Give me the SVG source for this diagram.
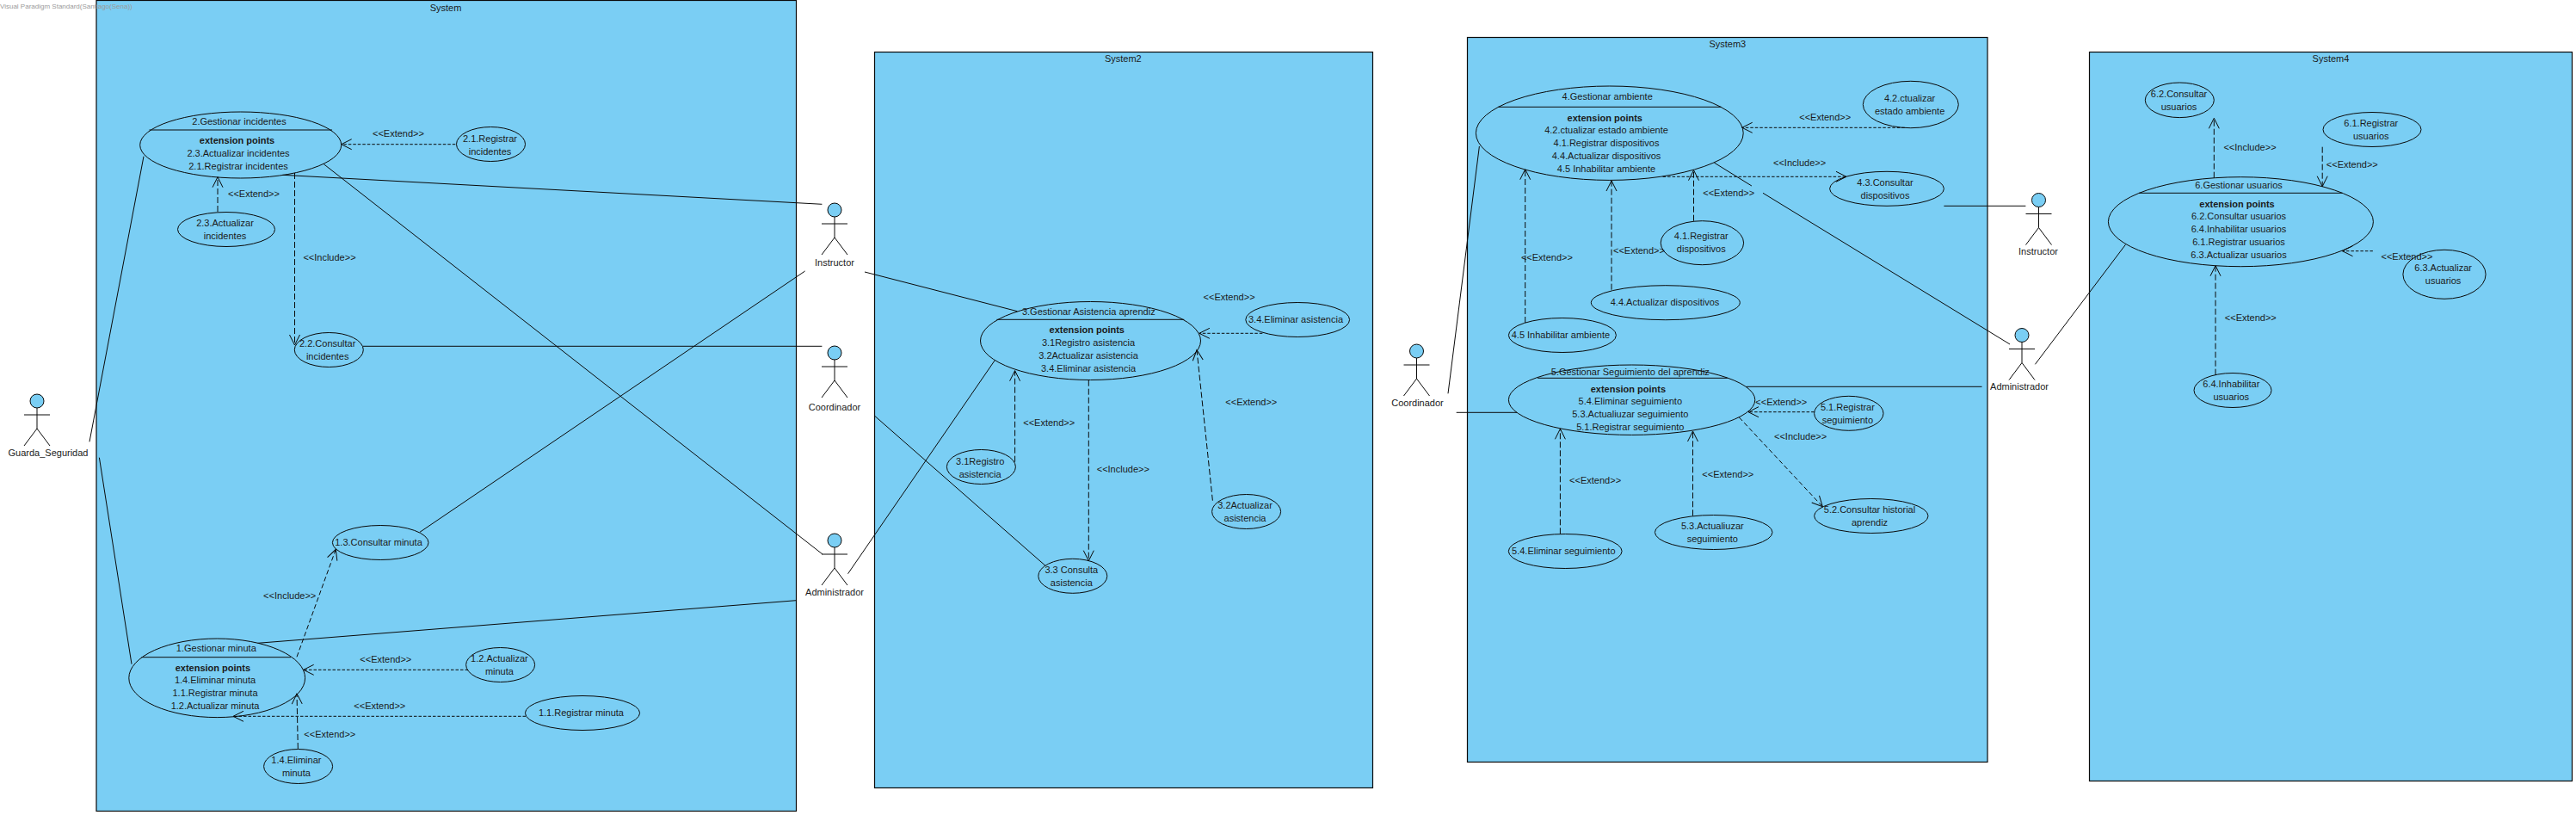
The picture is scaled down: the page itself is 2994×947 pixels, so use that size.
<svg xmlns="http://www.w3.org/2000/svg" width="2994" height="947" viewBox="0 0 2994 947">
<style>
text{font-family:"Liberation Sans",Arial,sans-serif;font-size:11px;fill:#1a1a1a;text-anchor:middle;dominant-baseline:central}
.b{font-weight:bold}
.sys{fill:#7acef4;stroke:#0a0a0a;stroke-width:1.2}
.uc{fill:#7acef4;stroke:#0a0a0a;stroke-width:1}
.sep{stroke:#0a0a0a;stroke-width:1;fill:none}
.act{fill:none;stroke:#0a0a0a;stroke-width:1}
.head{fill:#7acef4;stroke:#0a0a0a;stroke-width:1}
.as{fill:none;stroke:#0a0a0a;stroke-width:1}
.dp{fill:none;stroke:#0a0a0a;stroke-width:1;stroke-dasharray:5.5 3;marker-end:url(#open)}
.h{stroke-dasharray:3.5 2}
.v{stroke-dasharray:7 3}
.wm{font-size:8px;fill:#9a9a9a;text-anchor:start}
</style>
<defs>
<marker id="open" markerUnits="userSpaceOnUse" markerWidth="30" markerHeight="30" refX="15" refY="15" orient="auto" overflow="visible">
<path d="M3,9 L15,15 L3,21" fill="none" stroke="#0a0a0a" stroke-width="1"/>
</marker>
<g id="actor">
<circle class="head" cx="0" cy="8" r="8"/>
<path class="act" d="M0,16V40M-15,24H15M0,40L-15,60M0,40L15,60"/>
</g>
</defs>

<g id="system1"><rect class="sys" x="112" y="0.5" width="813.5" height="942"/><text x="518" y="8.7">System</text></g>
<g id="system2"><rect class="sys" x="1016.5" y="60.5" width="579" height="855"/><text x="1305.3" y="68.3">System2</text></g>
<g id="system3"><rect class="sys" x="1705.5" y="43.5" width="604.5" height="842"/><text x="2007.8" y="51.3">System3</text></g>
<g id="system4"><rect class="sys" x="2428.5" y="60.5" width="561" height="847"/><text x="2709" y="68.3">System4</text></g>

<g id="actor-guarda"><use href="#actor" x="43" y="458"/><text x="56" y="526.3">Guarda_Seguridad</text></g>
<g id="actor-instructor1"><use href="#actor" x="970" y="236"/><text x="970" y="305.3">Instructor</text></g>
<g id="actor-coordinador1"><use href="#actor" x="970" y="402"/><text x="970" y="473.3">Coordinador</text></g>
<g id="actor-administrador1"><use href="#actor" x="970" y="620"/><text x="970" y="688.3">Administrador</text></g>
<g id="actor-coordinador2"><use href="#actor" x="1646.5" y="400"/><text x="1647.5" y="468.3">Coordinador</text></g>
<g id="actor-instructor2"><use href="#actor" x="2369.5" y="224.5"/><text x="2369" y="292.3">Instructor</text></g>
<g id="actor-administrador2"><use href="#actor" x="2350" y="381.5"/><text x="2347" y="449.3">Administrador</text></g>

<g id="uc-2">
<ellipse class="uc" cx="279.7" cy="168.5" rx="117" ry="38.5"/><path class="sep" d="M173.5,151H386"/>
<text x="278" y="141">2.Gestionar incidentes</text><text class="b" x="275.5" y="163.3">extension points</text>
<text x="277" y="178.3">2.3.Actualizar incidentes</text><text x="277" y="193.3">2.1.Registrar incidentes</text></g>
<g id="uc-2-1"><ellipse class="uc" cx="570.5" cy="167.5" rx="40" ry="20"/><text x="569.5" y="160.7">2.1.Registrar</text><text x="569.5" y="175.7">incidentes</text></g>
<g id="uc-2-3"><ellipse class="uc" cx="263" cy="266.5" rx="56.5" ry="20"/><text x="261.5" y="259.3">2.3.Actualizar</text><text x="261.5" y="274.3">incidentes</text></g>
<g id="uc-2-2"><ellipse class="uc" cx="382.3" cy="406.5" rx="40" ry="20"/><text x="380.7" y="399.3">2.2.Consultar</text><text x="380.7" y="414.3">incidentes</text></g>

<g id="uc-1">
<ellipse class="uc" cx="252.2" cy="787.8" rx="102.4" ry="45.8"/><path class="sep" d="M164.5,763.7H338"/>
<text x="251.3" y="753.3">1.Gestionar minuta</text><text class="b" x="247.4" y="775.7">extension points</text>
<text x="250" y="790.3">1.4.Eliminar minuta</text><text x="250" y="805.3">1.1.Registrar minuta</text><text x="250" y="820.3">1.2.Actualizar minuta</text></g>
<g id="uc-1-3"><ellipse class="uc" cx="442.2" cy="630.5" rx="55.8" ry="20"/><text x="440" y="630.3">1.3.Consultar minuta</text></g>
<g id="uc-1-2"><ellipse class="uc" cx="581.6" cy="772.5" rx="40" ry="20"/><text x="580.4" y="765.3">1.2.Actualizar</text><text x="580.4" y="780.3">minuta</text></g>
<g id="uc-1-1"><ellipse class="uc" cx="677" cy="828.5" rx="66.6" ry="20"/><text x="675.4" y="828.3">1.1.Registrar minuta</text></g>
<g id="uc-1-4"><ellipse class="uc" cx="346.6" cy="890.5" rx="40" ry="20"/><text x="344.4" y="883.3">1.4.Eliminar</text><text x="344.4" y="898.3">minuta</text></g>

<g id="uc-3">
<ellipse class="uc" cx="1267.5" cy="396" rx="128" ry="45.5"/><path class="sep" d="M1158.4,371.3H1376.3"/>
<text x="1265.3" y="361.7">3.Gestionar Asistencia aprendiz</text><text class="b" x="1263.3" y="383.3">extension points</text>
<text x="1265" y="398.3">3.1Registro asistencia</text><text x="1265" y="413.3">3.2Actualizar asistencia</text><text x="1265" y="428.3">3.4.Eliminar asistencia</text></g>
<g id="uc-3-4"><ellipse class="uc" cx="1508.2" cy="371.5" rx="60.4" ry="20"/><text x="1506" y="371.3">3.4.Eliminar asistencia</text></g>
<g id="uc-3-1"><ellipse class="uc" cx="1140.4" cy="542.5" rx="40" ry="20"/><text x="1139.2" y="535.7">3.1Registro</text><text x="1139.2" y="550.7">asistencia</text></g>
<g id="uc-3-3"><ellipse class="uc" cx="1246.8" cy="669.3" rx="40" ry="20"/><text x="1245.3" y="662.3">3.3 Consulta</text><text x="1245.3" y="677.3">asistencia</text></g>
<g id="uc-3-2"><ellipse class="uc" cx="1448.6" cy="594.5" rx="40" ry="20"/><text x="1447" y="587.3">3.2Actualizar</text><text x="1447" y="602.3">asistencia</text></g>

<g id="uc-4">
<ellipse class="uc" cx="1870.8" cy="154.7" rx="155.4" ry="54.7"/><path class="sep" d="M1741.2,124.3H2000.5"/>
<text x="1868.2" y="112.3">4.Gestionar ambiente</text><text class="b" x="1865.3" y="136.7">extension points</text>
<text x="1867" y="151.3">4.2.ctualizar  estado ambiente</text><text x="1867" y="166.3">4.1.Registrar dispositivos</text><text x="1867" y="181.3">4.4.Actualizar dispositivos</text><text x="1867" y="196.3">4.5 Inhabilitar ambiente</text></g>
<g id="uc-4-2"><ellipse class="uc" cx="2220.8" cy="121.5" rx="55.5" ry="27.2"/><text x="2219.6" y="114.3">4.2.ctualizar</text><text x="2219.6" y="129.3">estado ambiente</text></g>
<g id="uc-4-3"><ellipse class="uc" cx="2193" cy="219.3" rx="66.4" ry="20"/><text x="2191" y="212.3">4.3.Consultar</text><text x="2191" y="227.3">dispositivos</text></g>
<g id="uc-4-1"><ellipse class="uc" cx="1978.4" cy="282.2" rx="48.2" ry="25.5"/><text x="1977.3" y="274.3">4.1.Registrar</text><text x="1977.3" y="289.3">dispositivos</text></g>
<g id="uc-4-4"><ellipse class="uc" cx="1935.8" cy="351.7" rx="86.5" ry="20"/><text x="1935" y="351.3">4.4.Actualizar dispositivos</text></g>
<g id="uc-4-5"><ellipse class="uc" cx="1815.9" cy="389.5" rx="62.5" ry="20"/><text x="1813.9" y="389.3">4.5 Inhabilitar ambiente</text></g>

<g id="uc-5">
<ellipse class="uc" cx="1896.6" cy="464.7" rx="143.2" ry="40.7"/><path class="sep" d="M1787.2,439.3H2007.8"/>
<text x="1894.8" y="432.3">5.Gestionar Seguimiento del aprendiz</text><text class="b" x="1892.4" y="451.7">extension points</text>
<text x="1894.8" y="466.3">5.4.Eliminar seguimiento</text><text x="1894.8" y="481.3">5.3.Actualiuzar seguimiento</text><text x="1894.8" y="496.3">5.1.Registrar seguimiento</text></g>
<g id="uc-5-1"><ellipse class="uc" cx="2148.8" cy="480.3" rx="40.2" ry="20"/><text x="2147.4" y="473.3">5.1.Registrar</text><text x="2147.4" y="488.3">seguimiento</text></g>
<g id="uc-5-2"><ellipse class="uc" cx="2174.8" cy="599.5" rx="66.2" ry="20"/><text x="2173" y="592.3">5.2.Consultar historial</text><text x="2173" y="607.3">aprendiz</text></g>
<g id="uc-5-3"><ellipse class="uc" cx="1991.7" cy="618.5" rx="68.3" ry="20"/><text x="1990.3" y="611.3">5.3.Actualiuzar</text><text x="1990.3" y="626.3">seguimiento</text></g>
<g id="uc-5-4"><ellipse class="uc" cx="1819.2" cy="640.5" rx="65.9" ry="20"/><text x="1817.3" y="640.3">5.4.Eliminar seguimiento</text></g>

<g id="uc-6">
<ellipse class="uc" cx="2604.4" cy="257.7" rx="154" ry="52"/><path class="sep" d="M2485.8,224.3H2722.5"/>
<text x="2602" y="215">6.Gestionar usuarios</text><text class="b" x="2600" y="236.7">extension points</text>
<text x="2602" y="251.3">6.2.Consultar usuarios</text><text x="2602" y="266.3">6.4.Inhabilitar usuarios</text><text x="2602" y="281.3">6.1.Registrar usuarios</text><text x="2602" y="296.3">6.3.Actualizar usuarios</text></g>
<g id="uc-6-2"><ellipse class="uc" cx="2533.3" cy="116.3" rx="40" ry="20.3"/><text x="2532.5" y="109.3">6.2.Consultar</text><text x="2532.5" y="124.3">usuarios</text></g>
<g id="uc-6-1"><ellipse class="uc" cx="2757" cy="150.5" rx="57" ry="20"/><text x="2755.8" y="143.3">6.1.Registrar</text><text x="2755.8" y="158.3">usuarios</text></g>
<g id="uc-6-3"><ellipse class="uc" cx="2841" cy="318.8" rx="48.1" ry="28.5"/><text x="2839.6" y="311.3">6.3.Actualizar</text><text x="2839.6" y="326.3">usuarios</text></g>
<g id="uc-6-4"><ellipse class="uc" cx="2595" cy="453.5" rx="45" ry="20"/><text x="2593.3" y="446.3">6.4.Inhabilitar</text><text x="2593.3" y="461.3">usuarios</text></g>

<g id="connectors">
<path class="as" d="M328.4,203.3L955.4,237.3"/>
<path class="as" d="M376.3,190.7L956,644"/>
<path class="as" d="M422,402.3H955.4"/>
<path class="as" d="M167,181.7L104,513.3"/>
<path class="as" d="M115.4,531.7L153,771.7"/>
<path class="as" d="M488,618.3L935.6,315"/>
<path class="as" d="M299.7,747.3L925.4,697.7"/>
<path class="as" d="M985.5,666.7L1156,419"/>
<path class="as" d="M1016,482.7L1215,657.3"/>
<path class="as" d="M1005,316L1182.4,361.7"/>
<path class="as" d="M2259.4,239.3H2354.4"/>
<path class="as" d="M1992.3,189L2035.9,216M2049,224.3L2336,400"/>
<path class="as" d="M1719.4,170L1683,457.3"/>
<path class="as" d="M2029.6,449.3H2303.5"/>
<path class="as" d="M1692.7,479.3H1763"/>
<path class="as" d="M2365.4,423.3L2470.4,284.3"/>

<path class="dp h" d="M529.3,167.7H396.7"/>
<path class="dp v" d="M253,246V205.7"/>
<path class="dp v" d="M342.5,201V401"/>
<path class="dp" d="M345,763.3L390.3,638.3"/>
<path class="dp h" d="M544,778.3H352.7"/>
<path class="dp h" d="M611,832.3H271"/>
<path class="dp v" d="M346.3,870L345,806"/>
<path class="dp h" d="M1467.3,387.3H1393.9"/>
<path class="dp v" d="M1179.6,536.7V430.7"/>
<path class="dp v" d="M1265.3,441.7V651.7"/>
<path class="dp v" d="M1409.4,581.7L1391,406.7"/>
<path class="dp h" d="M2213.8,148.3H2024.7"/>
<path class="dp h" d="M1932.6,205.3H2146"/>
<path class="dp v" d="M1968.5,256.7V197.7"/>
<path class="dp v" d="M1873,336.7V210"/>
<path class="dp v" d="M1772.7,375V196.7"/>
<path class="dp h" d="M2108.6,478.7H2032"/>
<path class="dp" d="M2021.4,485L2118.3,588.7"/>
<path class="dp v" d="M1967.5,599.3V501"/>
<path class="dp v" d="M1813.4,620.3V498.3"/>
<path class="dp v" d="M2573.3,206.7V137.3"/>
<path class="dp v" d="M2699.2,170.7V216.7"/>
<path class="dp h" d="M2757.9,291.7H2722.5"/>
<path class="dp v" d="M2575,435.7V308.7"/>

<text x="463" y="155">&lt;&lt;Extend&gt;&gt;</text>
<text x="295" y="225.3">&lt;&lt;Extend&gt;&gt;</text>
<text x="383" y="299.3">&lt;&lt;Include&gt;&gt;</text>
<text x="336.7" y="692.3">&lt;&lt;Include&gt;&gt;</text>
<text x="448.3" y="766">&lt;&lt;Extend&gt;&gt;</text>
<text x="441.3" y="820">&lt;&lt;Extend&gt;&gt;</text>
<text x="383.3" y="853.3">&lt;&lt;Extend&gt;&gt;</text>
<text x="1428.6" y="345.3">&lt;&lt;Extend&gt;&gt;</text>
<text x="1219.2" y="491">&lt;&lt;Extend&gt;&gt;</text>
<text x="1305.3" y="545">&lt;&lt;Include&gt;&gt;</text>
<text x="1454.3" y="467">&lt;&lt;Extend&gt;&gt;</text>
<text x="2121.2" y="136.3">&lt;&lt;Extend&gt;&gt;</text>
<text x="2091.6" y="189.3">&lt;&lt;Include&gt;&gt;</text>
<text x="2009.2" y="224.3">&lt;&lt;Extend&gt;&gt;</text>
<text x="1905" y="291.3">&lt;&lt;Extend&gt;&gt;</text>
<text x="1797.9" y="299.3">&lt;&lt;Extend&gt;&gt;</text>
<text x="2070.3" y="467.3">&lt;&lt;Extend&gt;&gt;</text>
<text x="2092.6" y="507.3">&lt;&lt;Include&gt;&gt;</text>
<text x="2008.3" y="551.3">&lt;&lt;Extend&gt;&gt;</text>
<text x="1854.1" y="558">&lt;&lt;Extend&gt;&gt;</text>
<text x="2615" y="171.3">&lt;&lt;Include&gt;&gt;</text>
<text x="2733.8" y="191.3">&lt;&lt;Extend&gt;&gt;</text>
<text x="2797.5" y="298.3">&lt;&lt;Extend&gt;&gt;</text>
<text x="2615.8" y="369.3">&lt;&lt;Extend&gt;&gt;</text>
</g>

<text class="wm" x="0" y="7.5">Visual Paradigm Standard(Santiago(Sena))</text>
</svg>
